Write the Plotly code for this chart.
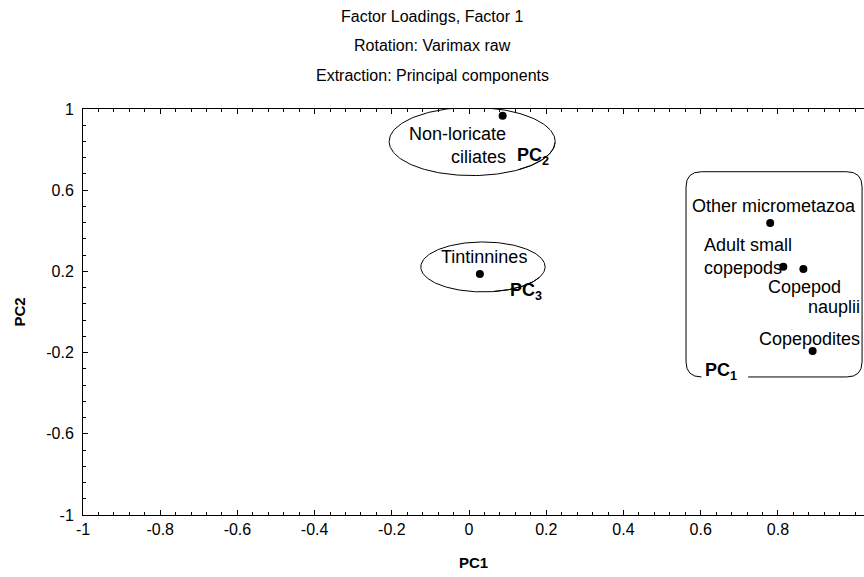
import numpy as np
import plotly.graph_objects as go

# ---- data ----
taxa = ["Non-loricate ciliates", "Tintinnines", "Other micrometazoa",
        "Adult small copepods", "Copepod nauplii", "Copepodites"]
pc1 = [0.087, 0.028, 0.780, 0.814, 0.866, 0.890]
pc2 = [0.967, 0.187, 0.438, 0.223, 0.212, -0.192]
x_ticks = [-1, -0.8, -0.6, -0.4, -0.2, 0, 0.2, 0.4, 0.6, 0.8]
y_ticks = [1, 0.6, 0.2, -0.2, -0.6, -1]
titles = ["Factor Loadings, Factor 1", "Rotation: Varimax raw",
          "Extraction: Principal components"]

FONT = "Liberation Sans, Arial, sans-serif"
fig = go.Figure()

fig.add_trace(go.Scatter(x=pc1, y=pc2, mode="markers", text=taxa,
                         marker=dict(color="black", size=8),
                         hoverinfo="text", showlegend=False))


def arc(cx, cy, rx, ry, t0, t1):
    t = np.radians(np.linspace(t0, t1, 240))
    return cx + rx * np.cos(t), cy + ry * np.sin(t)


# grouping ellipses (open arcs)
for (cx, cy, rx, ry, t0, t1) in [(0.008, 0.840, 0.215, 0.168, -56, 358),
                                 (0.036, 0.222, 0.161, 0.123, -80, 335)]:
    ex, ey = arc(cx, cy, rx, ry, t0, t1)
    fig.add_trace(go.Scatter(x=ex, y=ey, mode="lines",
                             line=dict(color="black", width=1),
                             hoverinfo="skip", showlegend=False))

# rounded rectangle for PC1 group
L, R, T, B = 0.562, 1.018, 0.691, -0.320
rx, ry = 0.04, 0.075
gap_r = 0.723
path = (f"M {gap_r},{B} L {R-rx},{B} Q {R},{B} {R},{B+ry} "
        f"L {R},{T-ry} Q {R},{T} {R-rx},{T} L {L+rx},{T} Q {L},{T} {L},{T-ry} "
        f"L {L},{B+ry} Q {L},{B} {L+rx},{B}")
fig.add_shape(type="path", path=path, xref="x", yref="y",
              line=dict(color="black", width=1))

ann = [
    ("Non-loricate<br>ciliates", 0.101, 0.818, "right", "right"),
    ("<b>PC<sub>2</sub></b>", 0.119, 0.768, "left", "left"),
    ("Tintinnines", 0.039, 0.271, "center", "center"),
    ("<b>PC<sub>3</sub></b>", 0.101, 0.103, "left", "left"),
    ("Other micrometazoa", 0.790, 0.522, "center", "center"),
    ("Adult small<br>copepods", 0.604, 0.271, "left", "left"),
    ("Copepod", 0.969, 0.123, "right", "right"),
    ("nauplii", 1.018, 0.025, "right", "right"),
    ("Copepodites", 1.018, -0.133, "right", "right"),
    ("<b>PC<sub>1</sub></b>", 0.606, -0.291, "left", "left"),
]
for text, x, y, xa, align in ann:
    fig.add_annotation(text=text, x=x, y=y, xref="x", yref="y",
                       xanchor=xa, yanchor="middle", align=align,
                       showarrow=False,
                       font=dict(family=FONT, size=18, color="black"))

for i, t in enumerate(titles):
    fig.add_annotation(text=t, xref="paper", yref="paper",
                       x=(432 - 83) / 781, y=1 + (109 - (16 + 29.5 * i)) / 406,
                       xanchor="center", yanchor="middle", showarrow=False,
                       font=dict(family=FONT, size=16, color="black"))

fig.update_layout(
    width=864, height=577,
    margin=dict(l=83, r=0, t=109, b=62),
    paper_bgcolor="white", plot_bgcolor="white",
    font=dict(family=FONT, size=16, color="black"),
    showlegend=False,
    xaxis=dict(range=[-1, 1.023], tickvals=x_ticks,
               ticktext=[f"{v:g}" for v in x_ticks],
               showgrid=False, zeroline=False,
               showline=True, linecolor="black", linewidth=1, mirror="ticks",
               ticks="inside", ticklen=5, tickcolor="black",
               minor=dict(dtick=0.04, tick0=-1, ticks="inside", ticklen=3,
                          tickcolor="black", showgrid=False),
               title=dict(text="<b>PC1</b>", standoff=20,
                          font=dict(family=FONT, size=15))),
    yaxis=dict(range=[-1, 1], tickvals=y_ticks,
               ticktext=[f"{v:g}" for v in y_ticks],
               showgrid=False, zeroline=False,
               showline=True, linecolor="black", linewidth=1, mirror=False,
               ticks="inside", ticklen=5, tickcolor="black",
               ticklabelstandoff=5,
               minor=dict(dtick=0.08, tick0=-1, ticks="inside", ticklen=3,
                          tickcolor="black", showgrid=False),
               title=dict(text="<b>PC2</b>", standoff=16,
                          font=dict(family=FONT, size=15))),
)

fig.write_html("out.html", config={"displayModeBar": False},
               post_script="document.body.style.margin='0';"
                           "document.body.style.overflow='hidden';")
